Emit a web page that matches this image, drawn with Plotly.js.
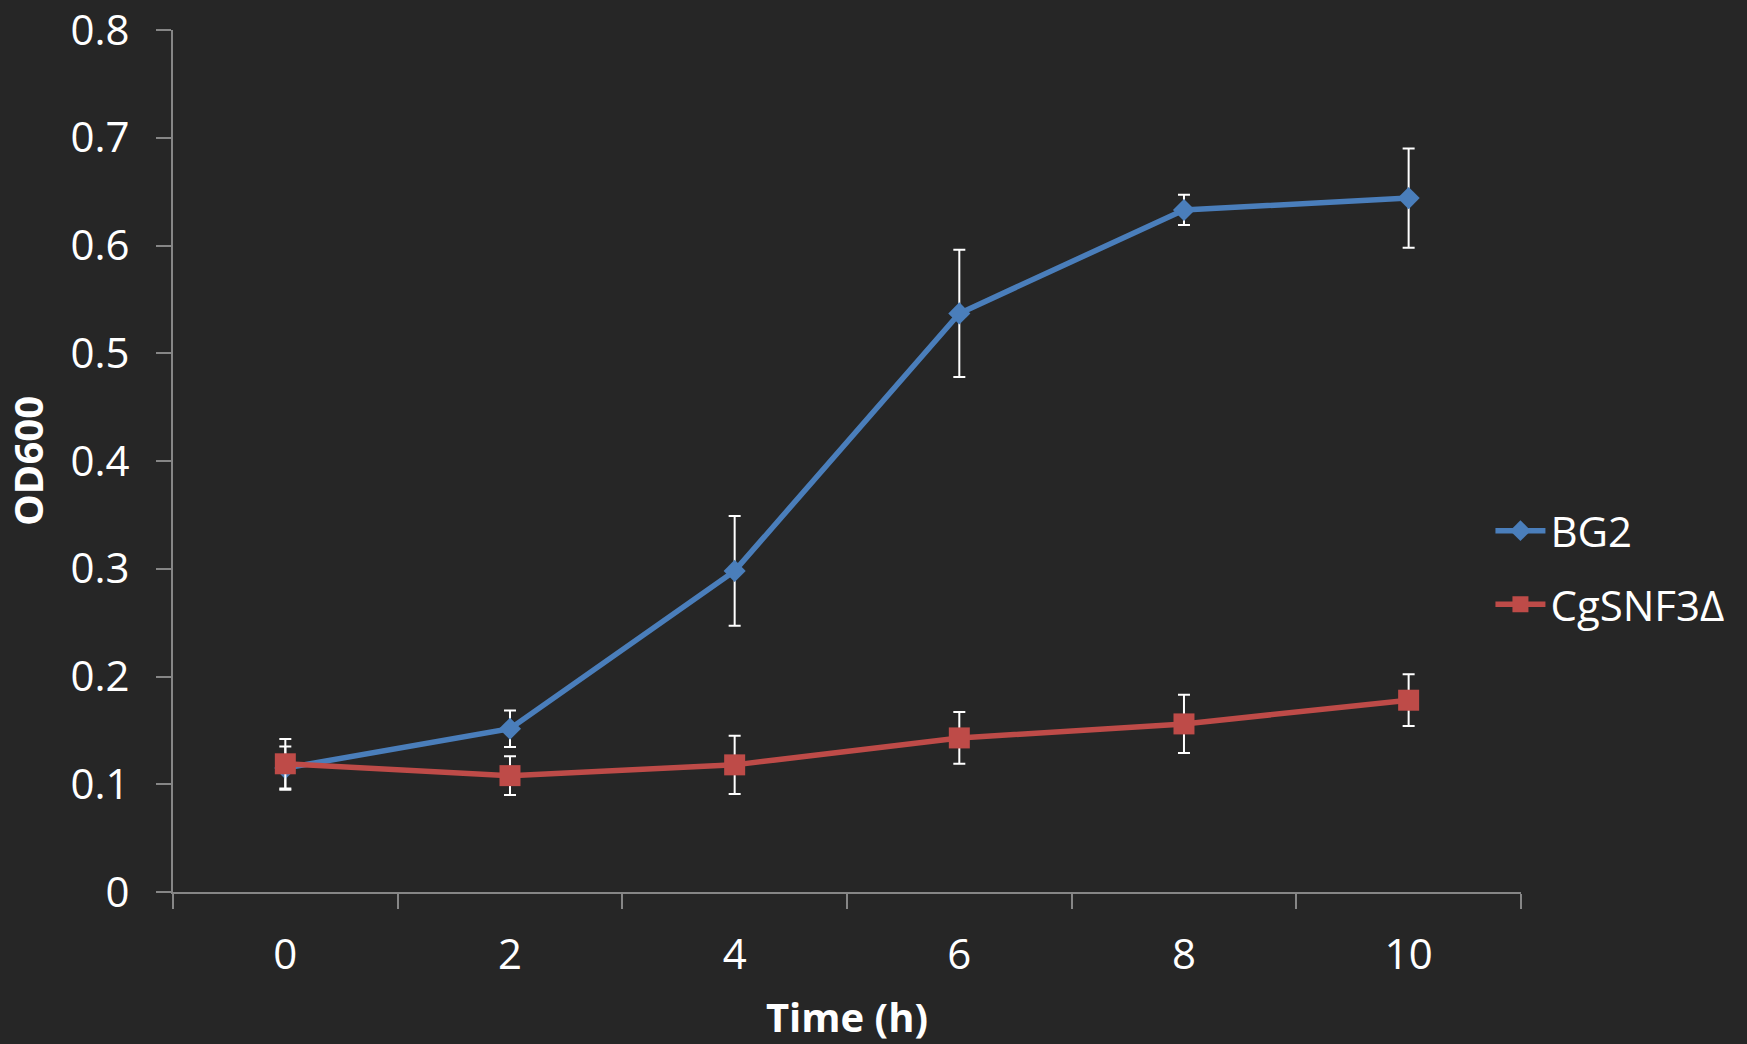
<!DOCTYPE html>
<html>
<head>
<meta charset="utf-8">
<script src="https://cdn.plot.ly/plotly-3.0.1.min.js"></script>
<style>
html,body{margin:0;padding:0;background:#262626;}
#chart{width:1747px;height:1044px;}
</style>
</head>
<body>
<div id="chart"></div>
<script>
// Data
var timeHours = [0, 2, 4, 6, 8, 10];
var bg2Values = [0.115, 0.1515, 0.298, 0.537, 0.633, 0.644];
var bg2Errors = [0.020, 0.017, 0.051, 0.059, 0.014, 0.046];
var snf3Values = [0.119, 0.108, 0.118, 0.143, 0.156, 0.178];
var snf3Errors = [0.023, 0.018, 0.027, 0.024, 0.027, 0.024];
var seriesNames = ["BG2", "CgSNF3Δ"];
var xTickVals = [0, 2, 4, 6, 8, 10];
var xTickText = ["0", "2", "4", "6", "8", "10"];
var xBoundaryTicks = [-1, 1, 3, 5, 7, 9, 11];
var yTickVals = [0, 0.1, 0.2, 0.3, 0.4, 0.5, 0.6, 0.7, 0.8];
var yTickText = ["0", "0.1", "0.2", "0.3", "0.4", "0.5", "0.6", "0.7", "0.8"];

var FONT = "'Open Sans', 'DejaVu Sans', sans-serif";
var AXIS_COLOR = "#868686";
var FS = 42;

var traces = [
  {
    x: timeHours, y: bg2Values, name: seriesNames[0], type: "scatter", mode: "lines+markers",
    legendgroup: "a",
    line: {color: "#4a7ebb", width: 5.5},
    marker: {symbol: "diamond", size: 17, color: "#4a7ebb"},
    error_y: {type: "data", array: bg2Errors, visible: true, color: "#ffffff", thickness: 2, width: 6}
  },
  {
    x: timeHours, y: snf3Values, name: seriesNames[1], type: "scatter", mode: "lines+markers",
    legendgroup: "b",
    line: {color: "#be4b48", width: 5.5},
    marker: {symbol: "square", size: 21, color: "#be4b48"},
    error_y: {type: "data", array: snf3Errors, visible: true, color: "#ffffff", thickness: 2, width: 6}
  }
];

var layout = {
  width: 1747, height: 1044,
  paper_bgcolor: "#262626", plot_bgcolor: "#262626",
  margin: {l: 173, r: 0, t: 30, b: 152},
  font: {family: FONT, color: "#ffffff", size: FS},
  showlegend: true,
  legend: {
    x: 0.8370, xanchor: "left", y: 0.376, yanchor: "middle",
    font: {family: FONT, size: FS, color: "#ffffff"},
    bgcolor: "rgba(0,0,0,0)", tracegroupgap: 16, itemwidth: 50
  },
  xaxis: {
    domain: [0, 0.8564],
    range: [-1, 11], showgrid: false, zeroline: false,
    showline: true, linecolor: AXIS_COLOR, linewidth: 2,
    tickmode: "array", tickvals: xTickVals, ticktext: xTickText, ticks: "",
    ticklabelstandoff: 25,
    tickfont: {family: FONT, size: FS, color: "#ffffff"},
    minor: {tickmode: "array", tickvals: xBoundaryTicks, ticks: "outside", ticklen: 15, tickwidth: 2, tickcolor: AXIS_COLOR, showgrid: false},
    title: {text: "<b>Time (h)</b>", font: {family: FONT, size: 40, color: "#ffffff"}, standoff: 32},
    fixedrange: true
  },
  yaxis: {
    range: [0, 0.8], showgrid: false, zeroline: false,
    showline: true, linecolor: AXIS_COLOR, linewidth: 2,
    tickmode: "array", tickvals: yTickVals, ticktext: yTickText,
    ticks: "outside", ticklen: 15, tickwidth: 2, tickcolor: AXIS_COLOR,
    ticklabelstandoff: 18, ticklabeloverflow: "allow",
    tickfont: {family: FONT, size: FS, color: "#ffffff"},
    title: {text: "<b>OD600</b>", font: {family: FONT, size: 40, color: "#ffffff"}, standoff: 15},
    fixedrange: true
  }
};

Plotly.newPlot("chart", traces, layout, {staticPlot: true, displayModeBar: false});
</script>
</body>
</html>
